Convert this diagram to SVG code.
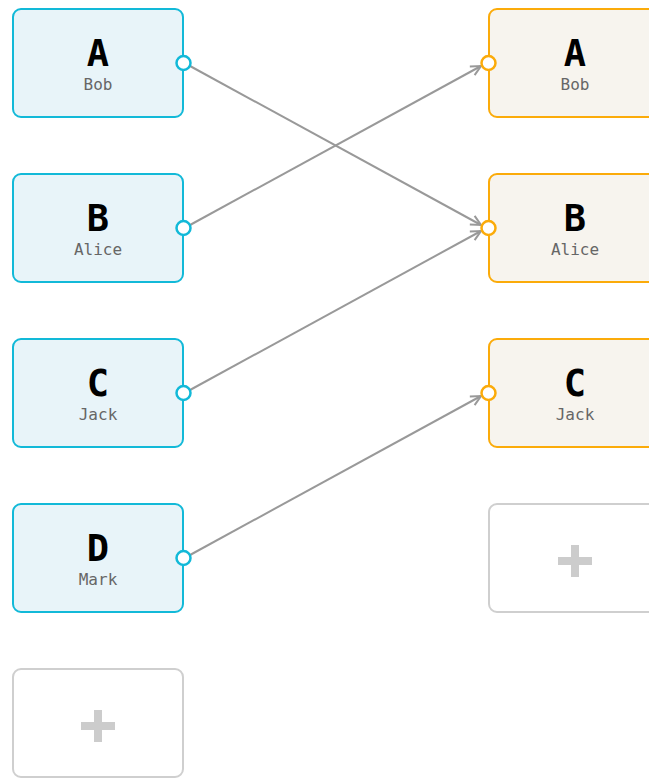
<svg xmlns="http://www.w3.org/2000/svg" width="649" height="778" viewBox="0 0 649 778">
  <style>
    .src rect { fill: #e8f4f9; stroke: #12b9d8; stroke-width: 2; }
    .dst rect { fill: #f7f4ee; stroke: #fbab0a; stroke-width: 2; }
    .add rect { fill: #ffffff; stroke: #cfcfcf; stroke-width: 2; }
    .add .plus { fill: #cccccc; }
    .src circle { fill: #ffffff; stroke: #12b9d8; stroke-width: 2.5; }
    .dst circle { fill: #ffffff; stroke: #fbab0a; stroke-width: 2.5; }
    .key { font-family: "DejaVu Sans Mono", "Liberation Mono", monospace; font-weight: bold; font-size: 37px; fill: #000000; text-anchor: middle; }
    .name { font-family: "DejaVu Sans Mono", "Liberation Mono", monospace; font-size: 16px; fill: #666666; text-anchor: middle; }
    .links path { fill: none; stroke: #999999; stroke-width: 2; }
  </style>
  <defs>
    <marker id="chevron" viewBox="0 0 12 12" refX="11" refY="6" markerWidth="12" markerHeight="12" markerUnits="userSpaceOnUse" orient="auto">
      <path d="M1,1 L11,6 L1,11" fill="none" stroke="#999999" stroke-width="2"/>
    </marker>
  </defs>

  <!-- connectors -->
  <g class="links">
    <path d="M190,66 L481,225" marker-end="url(#chevron)"/>
    <path d="M190,225 L481,66" marker-end="url(#chevron)"/>
    <path d="M190,390 L481,231" marker-end="url(#chevron)"/>
    <path d="M190,555 L481,396" marker-end="url(#chevron)"/>
  </g>

  <!-- left column -->
  <g id="src-a" class="src">
    <rect x="13" y="9" width="170" height="108" rx="8"/>
    <text class="key" x="98" y="66">A</text>
    <text class="name" x="98" y="90">Bob</text>
    <circle cx="183.5" cy="63" r="7"/>
  </g>
  <g id="src-b" class="src">
    <rect x="13" y="174" width="170" height="108" rx="8"/>
    <text class="key" x="98" y="231">B</text>
    <text class="name" x="98" y="255">Alice</text>
    <circle cx="183.5" cy="228" r="7"/>
  </g>
  <g id="src-c" class="src">
    <rect x="13" y="339" width="170" height="108" rx="8"/>
    <text class="key" x="98" y="396">C</text>
    <text class="name" x="98" y="420">Jack</text>
    <circle cx="183.5" cy="393" r="7"/>
  </g>
  <g id="src-d" class="src">
    <rect x="13" y="504" width="170" height="108" rx="8"/>
    <text class="key" x="98" y="561">D</text>
    <text class="name" x="98" y="585">Mark</text>
    <circle cx="183.5" cy="558" r="7"/>
  </g>
  <g id="src-add" class="add">
    <rect x="13" y="669" width="170" height="108" rx="8"/>
    <path class="plus" d="M94,710 h8 v12 h13 v8 h-13 v12 h-8 v-12 h-13 v-8 h13 z"/>
  </g>

  <!-- right column -->
  <g id="dst-a" class="dst">
    <rect x="489" y="9" width="170" height="108" rx="8"/>
    <text class="key" x="575" y="66">A</text>
    <text class="name" x="575" y="90">Bob</text>
    <circle cx="488.5" cy="63" r="7"/>
  </g>
  <g id="dst-b" class="dst">
    <rect x="489" y="174" width="170" height="108" rx="8"/>
    <text class="key" x="575" y="231">B</text>
    <text class="name" x="575" y="255">Alice</text>
    <circle cx="488.5" cy="228" r="7"/>
  </g>
  <g id="dst-c" class="dst">
    <rect x="489" y="339" width="170" height="108" rx="8"/>
    <text class="key" x="575" y="396">C</text>
    <text class="name" x="575" y="420">Jack</text>
    <circle cx="488.5" cy="393" r="7"/>
  </g>
  <g id="dst-add" class="add">
    <rect x="489" y="504" width="170" height="108" rx="8"/>
    <path class="plus" d="M571,545 h8 v12 h13 v8 h-13 v12 h-8 v-12 h-13 v-8 h13 z"/>
  </g>
</svg>
